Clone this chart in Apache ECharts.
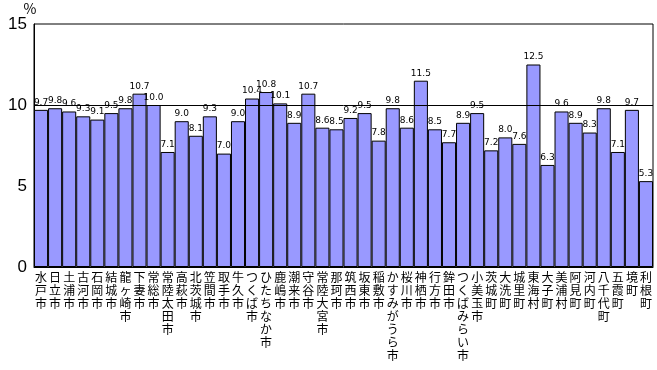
<!DOCTYPE html>
<html>
<head>
<meta charset="utf-8">
<script src="https://cdn.jsdelivr.net/npm/echarts@6/dist/echarts.min.js"></script>
<style>
    html, body { margin: 0; padding: 0; background: #fff; }
    #chart { width: 657px; height: 370px; }
</style>
</head>
<body>
<div id="chart"></div>
<script>
// 市町村名
var cities = ['水戸市', '日立市', '土浦市', '古河市', '石岡市', '結城市', '龍ヶ崎市', '下妻市', '常総市', '常陸太田市',
    '高萩市', '北茨城市', '笠間市', '取手市', '牛久市', 'つくば市', 'ひたちなか市', '鹿嶋市', '潮来市', '守谷市',
    '常陸大宮市', '那珂市', '筑西市', '坂東市', '稲敷市', 'かすみがうら市', '桜川市', '神栖市', '行方市', '鉾田市',
    'つくばみらい市', '小美玉市', '茨城町', '大洗町', '城里町', '東海村', '大子町', '美浦村', '阿見町', '河内町',
    '八千代町', '五霞町', '境町', '利根町'];
// 値 (%)
var rates = [9.7, 9.8, 9.6, 9.3, 9.1, 9.5, 9.8, 10.7, 10.0, 7.1,
    9.0, 8.1, 9.3, 7.0, 9.0, 10.4, 10.8, 10.1, 8.9, 10.7,
    8.6, 8.5, 9.2, 9.5, 7.8, 9.8, 8.6, 11.5, 8.5, 7.7,
    8.9, 9.5, 7.2, 8.0, 7.6, 12.5, 6.3, 9.6, 8.9, 8.3,
    9.8, 7.1, 9.7, 5.3];
var refLine = 10;

var myChart = echarts.init(document.getElementById('chart'));

var option = {
    animation: false,
    backgroundColor: '#fff',
    textStyle: { fontFamily: '"Noto Sans CJK JP", "DejaVu Sans", sans-serif' },
    grid: {
        left: 34,
        right: 4,
        top: 24,
        bottom: 103,
        show: true,
        borderColor: '#000',
        borderWidth: 1
    },
    xAxis: {
        type: 'category',
        data: cities,
        axisLine: { lineStyle: { color: '#000', width: 1 } },
        axisTick: { show: false },
        axisLabel: {
            interval: 0,
            margin: 4,
            color: '#000',
            fontSize: 12,
            lineHeight: 13,
            verticalAlign: 'top',
            formatter: function (v) {
                return v.split('').join('\n');
            }
        }
    },
    yAxis: {
        type: 'value',
        min: 0,
        max: 15,
        interval: 5,
        name: '%',
        nameLocation: 'end',
        nameGap: 5,
        nameTextStyle: { color: '#000', fontSize: 14, align: 'center', padding: [0, 8, 0, 0] },
        axisLine: { show: true, lineStyle: { color: '#000', width: 1 } },
        axisTick: { show: false },
        splitLine: { show: false },
        axisLabel: {
            color: '#000',
            fontSize: 17,
            margin: 7,
            fontFamily: '"Liberation Sans", sans-serif'
        }
    },
    series: [{
        type: 'bar',
        data: rates,
        barCategoryGap: 0,
        itemStyle: {
            color: '#9999ff',
            borderColor: '#000',
            borderWidth: 1
        },
        label: {
            show: true,
            position: 'top',
            distance: 3,
            color: '#000',
            fontSize: 9,
            fontFamily: '"DejaVu Sans", sans-serif',
            formatter: function (p) {
                return p.value.toFixed(1);
            }
        },
        markLine: {
            silent: true,
            symbol: 'none',
            label: { show: false },
            lineStyle: { color: '#000', width: 1, type: 'solid' },
            data: [{ yAxis: refLine }]
        }
    }]
};

myChart.setOption(option);
</script>
</body>
</html>
